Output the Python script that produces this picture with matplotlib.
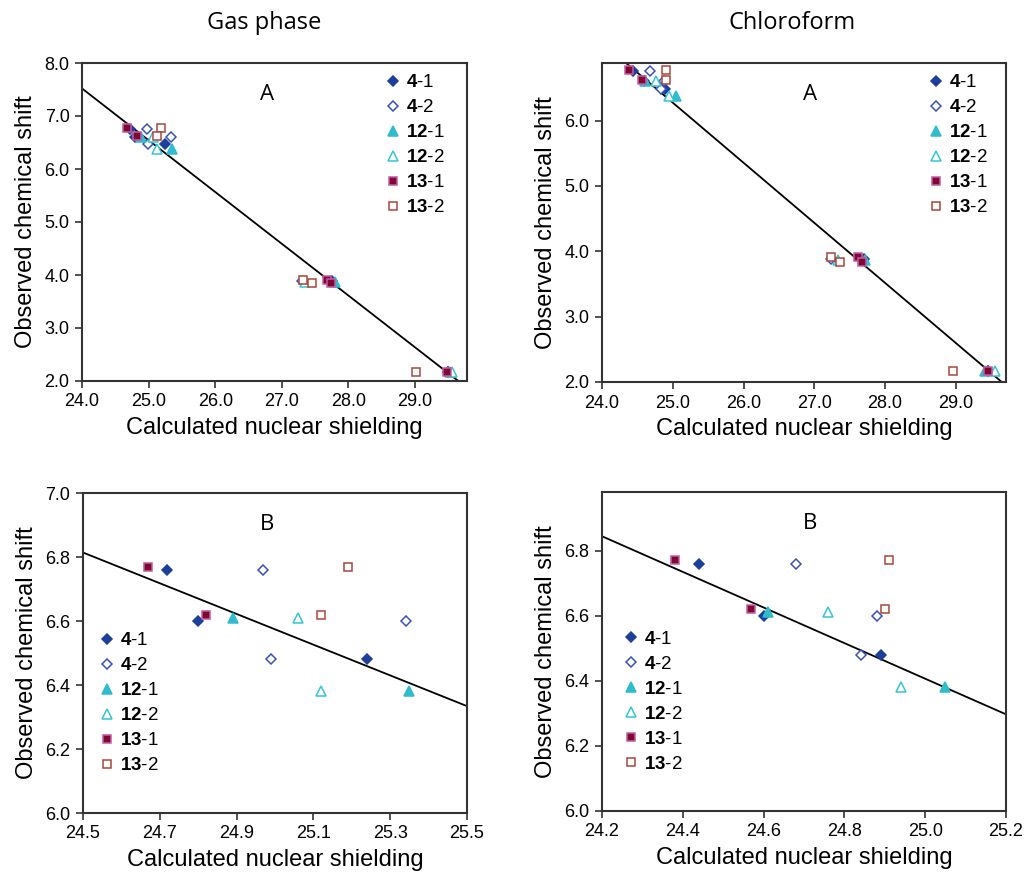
import matplotlib
matplotlib.use("Agg")
import matplotlib.pyplot as plt
import numpy as np

plt.rcParams["font.family"] = ["Liberation Sans", "DejaVu Sans"]
plt.rcParams["mathtext.fontset"] = "custom"
plt.rcParams["mathtext.rm"] = "Liberation Sans"
plt.rcParams["mathtext.bf"] = "Liberation Sans:bold"

# observed chemical shifts (shared by both solvents)
y_4 = [6.76, 6.60, 6.48, 3.88, 2.17]
y_12 = [6.61, 6.38, 3.86, 2.17]
y_13 = [6.77, 6.62, 3.91, 3.84, 2.17]

# calculated shielding, gas phase
gas_4_1 = [24.72, 24.80, 25.24, 27.76, 29.50]
gas_4_2 = [24.97, 25.34, 24.99, 27.31, 29.50]
gas_12_1 = [24.89, 25.35, 27.80, 29.52]
gas_12_2 = [25.06, 25.12, 27.35, 29.55]
gas_13_1 = [24.67, 24.82, 27.68, 27.74, 29.48]
gas_13_2 = [25.19, 25.12, 27.32, 27.45, 29.02]

# calculated shielding, chloroform
chl_4_1 = [24.44, 24.60, 24.89, 27.70, 29.45]
chl_4_2 = [24.68, 24.88, 24.84, 27.24, 29.45]
chl_12_1 = [24.61, 25.05, 27.72, 29.42]
chl_12_2 = [24.76, 24.94, 27.34, 29.56]
chl_13_1 = [24.38, 24.57, 27.62, 27.68, 29.45]
chl_13_2 = [24.91, 24.90, 27.24, 27.36, 28.96]

# regression lines: (x0, y0, x1, y1)
line_gas_a = (24.0, 7.52, 29.65, 2.0)
line_chl_a = (24.34, 6.88, 29.65, 2.0)
line_gas_b = (24.5, 6.814, 25.5, 6.334)
line_chl_b = (24.2, 6.844, 25.2, 6.297)

labels = [r"$\mathbf{4}$-1", r"$\mathbf{4}$-2", r"$\mathbf{12}$-1",
          r"$\mathbf{12}$-2", r"$\mathbf{13}$-1", r"$\mathbf{13}$-2"]

styles = [
    dict(marker="D", ms=5, mfc="#1c3f9c", mec="#1c3f9c"),
    dict(marker="D", ms=5, mfc="white", mec="#3a52b8"),
    dict(marker="^", ms=6.5, mfc="#2fbccc", mec="#2fbccc"),
    dict(marker="^", ms=6.5, mfc="white", mec="#35c4d4"),
    dict(marker="s", ms=6, mfc="#7d0a2c", mec="#c45aa8"),
    dict(marker="s", ms=6, mfc="white", mec="#a8463c"),
]

W, H = 1029, 877
fig = plt.figure(figsize=(W / 100, H / 100), dpi=100, facecolor="white")


def px_axes(l, t, r, b):
    return fig.add_axes([l / W, 1 - b / H, (r - l) / W, (b - t) / H])


def setup(ax, xlim, ylim, xticks, yticks, letter, lx):
    ax.set_xlim(xlim)
    ax.set_ylim(ylim)
    ax.set_xticks(xticks)
    ax.set_yticks(yticks)
    ax.set_xticklabels([f"{v:.1f}" for v in xticks], fontsize=13)
    ax.set_yticklabels([f"{v:.1f}" for v in yticks], fontsize=13)
    ax.tick_params(direction="out", length=5, width=1.2, color="#333333", pad=4)
    for s in ax.spines.values():
        s.set_color("#333333")
        s.set_linewidth(1.5)
    ax.set_xlabel("Calculated nuclear shielding", fontsize=17, labelpad=5)
    ax.set_ylabel("Observed chemical shift", fontsize=17, labelpad=5)
    ax.text(lx, 0.90, letter, transform=ax.transAxes, fontsize=16, family="Open Sans",
            ha="center", va="center")


def draw(ax, xs_list, line, legend_xy):
    ys_list = [y_4, y_4, y_12, y_12, y_13, y_13]
    handles = []
    for xs, ys, st, lab in zip(xs_list, ys_list, styles, labels):
        h, = ax.plot(xs, ys, ls="none", mew=1.1, label=lab, **st)
        handles.append(h)
    x0, y0, x1, y1 = line
    slope = (y1 - y0) / (x1 - x0)
    xl = np.array(ax.get_xlim())
    ax.plot(xl, y0 + slope * (xl - x0), color="black", lw=1.3, zorder=1)
    ax.set_xlim(xl)
    ax.legend(handles=handles, loc="upper left", bbox_to_anchor=legend_xy, frameon=False,
              fontsize=13.5, handlelength=0.7, handletextpad=0.35, labelspacing=0.42,
              borderpad=0, borderaxespad=0, numpoints=1)


gas = [gas_4_1, gas_4_2, gas_12_1, gas_12_2, gas_13_1, gas_13_2]
chl = [chl_4_1, chl_4_2, chl_12_1, chl_12_2, chl_13_1, chl_13_2]

ax1 = px_axes(82, 63, 467, 381)
setup(ax1, (24.0, 29.78), (2.0, 8.0), np.arange(24.0, 29.5, 1.0), np.arange(2.0, 8.5, 1.0), "A", 0.48)
draw(ax1, gas, line_gas_a, (0.79, 0.965))

ax2 = px_axes(602, 63, 1006, 382)
setup(ax2, (24.0, 29.71), (2.0, 6.88), np.arange(24.0, 29.5, 1.0), np.arange(2.0, 6.5, 1.0), "A", 0.515)
draw(ax2, chl, line_chl_a, (0.81, 0.965))

ax3 = px_axes(83, 493, 467, 813)
setup(ax3, (24.5, 25.5), (6.0, 7.0), np.arange(24.5, 25.55, 0.2), np.arange(6.0, 7.05, 0.2), "B", 0.48)
draw(ax3, gas, line_gas_b, (0.045, 0.565))

ax4 = px_axes(602, 492, 1006, 811)
setup(ax4, (24.2, 25.2), (6.0, 6.98), np.arange(24.2, 25.25, 0.2), np.arange(6.0, 6.85, 0.2), "B", 0.515)
draw(ax4, chl, line_chl_b, (0.055, 0.565))

fig.text(264 / W, 1 - 23 / H, "Gas phase", fontsize=17, family="Open Sans", ha="center", va="center")
fig.text(792 / W, 1 - 23 / H, "Chloroform", fontsize=17, family="Open Sans", ha="center", va="center")

fig.savefig("out.png", dpi=100, facecolor="white")
